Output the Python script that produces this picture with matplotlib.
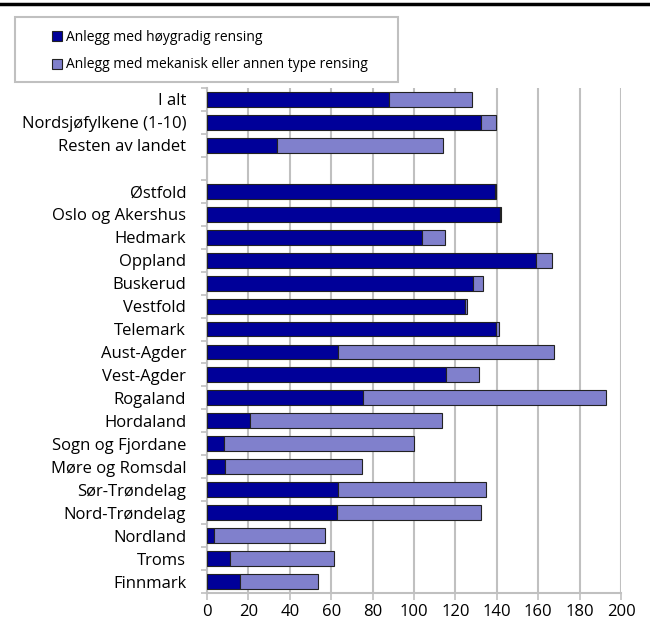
import numpy as np
import matplotlib.pyplot as plt
from matplotlib.patches import Rectangle

plt.rcParams['font.family'] = ['Open Sans', 'DejaVu Sans']

categories = ['I alt', 'Nordsjøfylkene (1-10)', 'Resten av landet', '',
              'Østfold', 'Oslo og Akershus', 'Hedmark', 'Oppland', 'Buskerud',
              'Vestfold', 'Telemark', 'Aust-Agder', 'Vest-Agder', 'Rogaland',
              'Hordaland', 'Sogn og Fjordane', 'Møre og Romsdal', 'Sør-Trøndelag',
              'Nord-Trøndelag', 'Nordland', 'Troms', 'Finnmark']
hoygradig = [88.1, 132.3, 34.0, np.nan,
             139.0, 141.6, 103.7, 158.7, 128.7,
             124.5, 139.8, 63.5, 115.6, 75.2,
             21.0, 8.1, 8.7, 63.1,
             62.6, 3.5, 11.3, 16.1]
totals = [128.2, 139.4, 114.0, np.nan,
          139.4, 141.8, 114.8, 166.9, 133.5,
          125.8, 141.0, 167.4, 131.3, 192.7,
          113.7, 100.2, 74.7, 134.7,
          132.6, 56.8, 61.5, 53.7]
mekanisk = [t - h for t, h in zip(totals, hoygradig)]

dark = '#000099'
light = '#8080CC'
grid_col = '#C0C0C0'

fig = plt.figure(figsize=(6.5, 6.31), dpi=100)
ax = fig.add_axes([207 / 650, 1 - 593 / 631, 414 / 650, 505 / 631])

y = np.arange(len(categories))
ax.barh(y, hoygradig, height=0.65, color=dark, edgecolor='#222222', linewidth=0.8,
        label='Anlegg med høygradig rensing', zorder=3)
ax.barh(y, mekanisk, left=hoygradig, height=0.65, color=light, edgecolor='#222222',
        linewidth=0.8, label='Anlegg med mekanisk eller annen type rensing', zorder=3)

ax.set_ylim(len(categories) - 0.5, -0.5)
ax.set_xlim(0, 200)
ax.set_xticks(np.arange(0, 201, 20))
ax.set_yticks(y)
ax.set_yticklabels(categories)
ax.set_yticks(np.arange(-0.5, len(categories), 1), minor=True)
ax.tick_params(axis='y', which='major', length=0, pad=15, labelsize=12)
ax.tick_params(axis='y', which='minor', length=4, color=grid_col, width=1.2)
ax.tick_params(axis='x', length=5, color=grid_col, width=1.2, labelsize=12, pad=3)

ax.xaxis.grid(True, color=grid_col, linewidth=1.5, zorder=0)
ax.set_axisbelow(True)
for s in ['top', 'right']:
    ax.spines[s].set_visible(False)
for s in ['left', 'bottom']:
    ax.spines[s].set_color(grid_col)
    ax.spines[s].set_linewidth(1.5)

# legend box drawn separately, entries placed inside it
fig.add_artist(Rectangle((15 / 650, 1 - 82 / 631), 383 / 650, 65 / 631,
                         transform=fig.transFigure, facecolor='white',
                         edgecolor=grid_col, linewidth=1.5, zorder=5))
leg = fig.legend(loc='upper left', bbox_to_anchor=(52 / 650, 1 - 30 / 631),
                 fontsize=10, frameon=False, handlelength=0.72,
                 handleheight=0.75, handletextpad=0.3, borderpad=0,
                 labelspacing=0.9, borderaxespad=0)
leg.set_zorder(6)

fig.add_artist(plt.Line2D([0, 1], [1 - 4 / 631, 1 - 4 / 631], color='black',
                          linewidth=2.5, transform=fig.transFigure))

fig.savefig('out.png', dpi=100)
